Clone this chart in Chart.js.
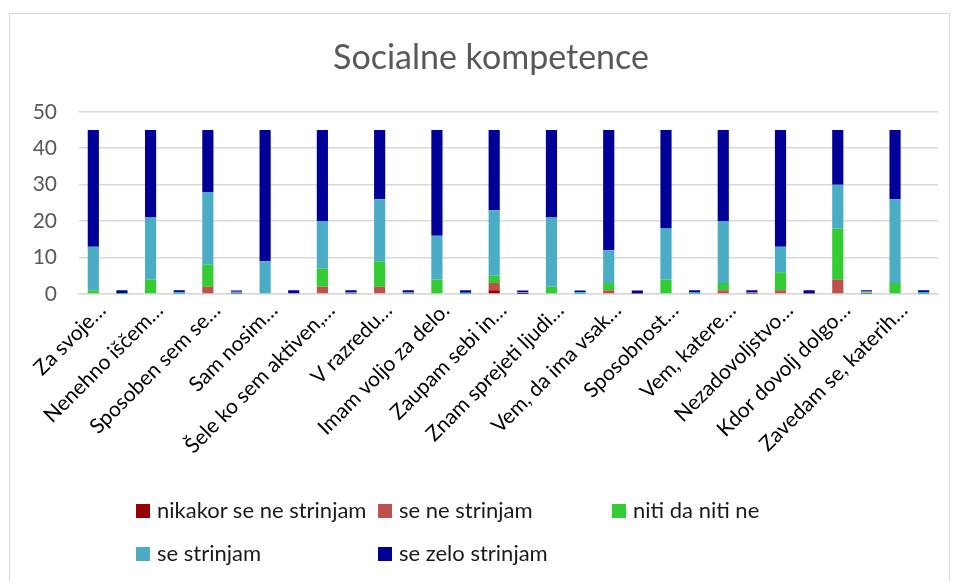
<!DOCTYPE html>
<html>
<head>
<meta charset="utf-8">
<script src="https://cdn.jsdelivr.net/npm/chart.js@4/dist/chart.umd.min.js"></script>
<style>
  html, body { margin: 0; padding: 0; background: #fff; }
  #wrap { position: relative; width: 960px; height: 581px; overflow: hidden; }
  #frame { position: absolute; left: 9px; top: 13px; width: 941px; height: 600px; border: 1.5px solid #d9d9d9; box-sizing: border-box; }
  canvas { position: absolute; left: 0; top: 0; }
  .legend { position: absolute; font-family: Lato, "Noto Sans", sans-serif; font-size: 22px; color: #1a1a1a; white-space: nowrap; line-height: 26px; }
  .legend i { display: inline-block; width: 14px; height: 14px; margin-right: 7px; vertical-align: 0px; }
</style>
</head>
<body>
<div id="wrap">
  <div id="frame"></div>
  <canvas id="c" width="960" height="581"></canvas>
  <div id="legend"></div>
</div>
<script>
// Statements (every other slot holds the share of answers for the statement before it)
const categories = [
  'Za svoje…', '', 'Nenehno iščem…', '', 'Sposoben sem se…', '', 'Sam nosim…', '',
  'Šele ko sem aktiven,…', '', 'V razredu…', '', 'Imam voljo za delo.', '',
  'Zaupam sebi in…', '', 'Znam sprejeti ljudi…', '', 'Vem, da ima vsak…', '',
  'Sposobnost…', '', 'Vem, katere…', '', 'Nezadovoljstvo…', '', 'Kdor dovolj dolgo…', '',
  'Zavedam se, katerih…', ''
];

const nikakorSeNeStrinjam = [0, 0, 0, 0, 0, 0, 0, 0, 0, 0, 0, 0, 0, 0, 1, 0.02, 0, 0, 0, 0, 0, 0, 0, 0, 0, 0, 0, 0, 0, 0];
const seNeStrinjam        = [0, 0, 0, 0, 2, 0.04, 0, 0, 2, 0.04, 2, 0.04, 0, 0, 2, 0.04, 0, 0, 1, 0.02, 0, 0, 1, 0.02, 1, 0.02, 4, 0.09, 0, 0];
const nitiDaNitiNe        = [1, 0.02, 4, 0.09, 6, 0.13, 0, 0, 5, 0.11, 7, 0.16, 4, 0.09, 2, 0.04, 2, 0.04, 2, 0.04, 4, 0.09, 2, 0.04, 5, 0.11, 14, 0.31, 3, 0.07];
const seStrinjam          = [12, 0.27, 17, 0.38, 20, 0.44, 9, 0.2, 13, 0.29, 17, 0.38, 12, 0.27, 18, 0.4, 19, 0.42, 9, 0.2, 14, 0.31, 17, 0.38, 7, 0.16, 12, 0.27, 23, 0.51];
const seZeloStrinjam      = [32, 0.71, 24, 0.53, 17, 0.38, 36, 0.8, 25, 0.56, 19, 0.42, 29, 0.64, 22, 0.49, 24, 0.53, 33, 0.73, 27, 0.6, 25, 0.56, 32, 0.71, 15, 0.33, 19, 0.42];

const yTicks = [0, 10, 20, 30, 40, 50];

const series = [
  { label: 'nikakor se ne strinjam', data: nikakorSeNeStrinjam, color: '#990000' },
  { label: 'se ne strinjam',         data: seNeStrinjam,        color: '#C0504D' },
  { label: 'niti da niti ne',        data: nitiDaNitiNe,        color: '#33CC33' },
  { label: 'se strinjam',            data: seStrinjam,          color: '#4BACC6' },
  { label: 'se zelo strinjam',       data: seZeloStrinjam,      color: '#000099' }
];

const FONT = 'Lato, "Noto Sans", sans-serif';

new Chart(document.getElementById('c'), {
  type: 'bar',
  data: {
    labels: categories,
    datasets: series.map(s => ({
      label: s.label,
      data: s.data,
      backgroundColor: s.color,
      borderWidth: 0,
      barPercentage: 0.39,
      categoryPercentage: 1
    }))
  },
  options: {
    responsive: false,
    animation: false,
    devicePixelRatio: 1,
    layout: { padding: { left: 22, right: 0, top: 0, bottom: 0 } },
    plugins: {
      legend: { display: false },
      tooltip: { enabled: false },
      title: {
        display: true,
        text: 'Socialne kompetence',
        color: '#595959',
        font: { family: FONT, size: 34, weight: 'normal' },
        padding: { top: 38, bottom: 33 }
      }
    },
    scales: {
      x: {
        stacked: true,
        grid: { display: false, drawTicks: false },
        border: { display: true, color: '#d9d9d9', width: 1.5 },
        ticks: {
          autoSkip: false,
          minRotation: 45,
          maxRotation: 45,
          padding: 4,
          labelOffset: 9,
          color: '#000000',
          font: { family: FONT, size: 21 }
        },
        afterFit: scale => { scale.height = 287; }
      },
      y: {
        stacked: true,
        min: 0,
        max: 50,
        afterBuildTicks: scale => { scale.ticks = yTicks.map(v => ({ value: v })); },
        grid: { color: '#d9d9d9', lineWidth: 1.5, drawTicks: false },
        border: { display: false },
        ticks: {
          padding: 22,
          color: '#595959',
          font: { family: FONT, size: 21 }
        },
        afterFit: scale => { scale.width = 57; }
      },
      // empty margin on the right of the plot
      yRight: {
        position: 'right',
        display: true,
        grid: { display: false, drawTicks: false },
        border: { display: false },
        ticks: { display: false },
        afterFit: scale => { scale.width = 22; }
      }
    }
  }
});

// Legend laid out in a fixed grid below the axis labels
const legendPos = [
  { x: 136, y: 497 }, { x: 378, y: 497 }, { x: 612, y: 497 },
  { x: 136, y: 540 }, { x: 378, y: 540 }
];
const legendEl = document.getElementById('legend');
series.forEach((s, i) => {
  const d = document.createElement('div');
  d.className = 'legend';
  d.style.left = legendPos[i].x + 'px';
  d.style.top = legendPos[i].y + 'px';
  const sw = document.createElement('i');
  sw.style.background = s.color;
  d.appendChild(sw);
  d.appendChild(document.createTextNode(s.label));
  legendEl.appendChild(d);
});
</script>
</body>
</html>
